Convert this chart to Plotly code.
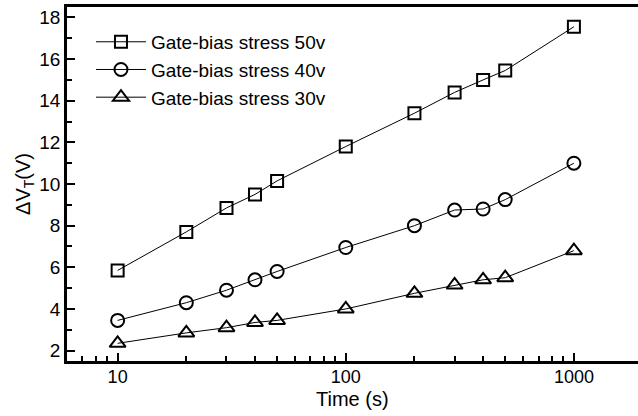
import plotly.graph_objects as go

time_s = [10, 20, 30, 40, 50, 100, 200, 300, 400, 500, 1000]
dvt_50v = [5.85, 7.7, 8.85, 9.5, 10.15, 11.8, 13.4, 14.4, 15.0, 15.45, 17.55]
dvt_40v = [3.45, 4.3, 4.9, 5.4, 5.8, 6.95, 8.0, 8.75, 8.8, 9.25, 11.0]
dvt_30v = [2.35, 2.85, 3.1, 3.35, 3.45, 4.0, 4.75, 5.15, 5.4, 5.5, 6.8]
series_names = ["Gate-bias stress 50v", "Gate-bias stress 40v", "Gate-bias stress 30v"]
symbols = ["square-open", "circle-open", "triangle-up-open"]
x_tickvals = [10, 100, 1000]
y_tickvals = [2, 4, 6, 8, 10, 12, 14, 16, 18]

FONT = "Liberation Sans, Arial, Helvetica, sans-serif"

fig = go.Figure()
for name, ys, sym, sz in zip(series_names, [dvt_50v, dvt_40v, dvt_30v], symbols, [12, 13, 14]):
    fig.add_trace(go.Scatter(
        x=time_s, y=ys, name=name, mode="lines+markers",
        line=dict(color="black", width=1),
        marker=dict(symbol=sym, size=sz, color="black", line=dict(width=2, color="black")),
    ))

fig.update_layout(
    width=638, height=416,
    margin=dict(l=67, r=0, t=7, b=55),
    paper_bgcolor="white", plot_bgcolor="white",
    font=dict(family=FONT, size=19, color="black"),
    showlegend=True,
    legend=dict(x=0.042, y=0.955, xanchor="left", yanchor="top",
                bgcolor="rgba(0,0,0,0)", font=dict(size=19, family=FONT),
                tracegroupgap=0, itemwidth=50),
    annotations=[dict(text="Time (s)", xref="paper", yref="paper",
                      x=0.5, y=-(399 - 361) / 354, xanchor="center", yanchor="middle",
                      showarrow=False, font=dict(size=20, family=FONT))],
)
fig.update_xaxes(
    type="log", range=[0.778, 3.281],
    tickvals=x_tickvals, ticktext=[str(v) for v in x_tickvals],
    ticks="inside", ticklen=8, tickwidth=2, tickcolor="black",
    showline=True, linewidth=2.5, linecolor="black", mirror=True,
    showgrid=False, zeroline=False,
    minor=dict(ticks="inside", ticklen=5, tickwidth=2, tickcolor="black", dtick="D1", showgrid=False),
    tickfont=dict(size=18, family=FONT),
    ticklabelstandoff=-2,
)
fig.update_yaxes(
    range=[1.5, 18.5],
    tickvals=y_tickvals,
    ticks="inside", ticklen=8, tickwidth=2, tickcolor="black",
    showline=True, linewidth=2.5, linecolor="black",
    showgrid=False, zeroline=False,
    minor=dict(ticks="inside", ticklen=5, tickwidth=2, tickcolor="black", dtick=1, showgrid=False),
    title=dict(text="ΔV<sub>T</sub>(V)", font=dict(size=20, family=FONT), standoff=4),
    tickfont=dict(size=19, family=FONT),
)

fig.write_html("out.html")
